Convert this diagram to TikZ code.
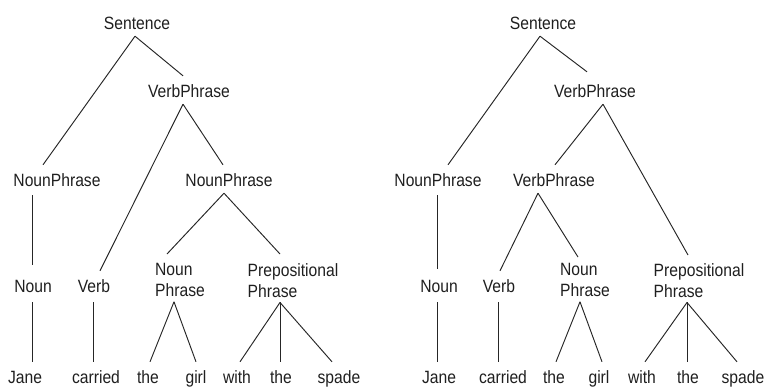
\documentclass[tikz,border=0pt]{standalone}
\usepackage{fontspec}
\setmainfont{Liberation Sans}[FakeStretch=0.88]
\begin{document}
\begin{tikzpicture}[x=1pt,y=-1pt,
  lab/.style={font=\fontsize{17.8}{21}\selectfont, text=black!88, inner xsep=0pt, inner ysep=3pt, text height=18pt, text depth=4pt, anchor=base},
  labtwo/.style={font=\fontsize{17.8}{21}\selectfont, text=black!88, inner sep=0pt, align=left, anchor=north},
  edge/.style={line width=0.95pt, draw=black!85}]
\useasboundingbox (0,0) rectangle (769,389);
% ---------- left tree ----------
\node[lab] (s1) at (137,29) {Sentence};
\node[lab] (vp1) at (189,97) {VerbPhrase};
\node[lab] (np1) at (57,186) {NounPhrase};
\node[lab] (np2) at (229,186) {NounPhrase};
\node[lab] (n1) at (33,292) {Noun};
\node[lab] (v1) at (94,292) {Verb};
\node[labtwo] (npb1) at (180,263) {Noun\\Phrase};
\node[labtwo] (pp1) at (293,263) {Prepositional\\Phrase};
\node[lab] (w1) at (25,383) {Jane};
\node[lab] (w2) at (96,383) {carried};
\node[lab] (w3) at (148,383) {the};
\node[lab] (w4) at (196,383) {girl};
\node[lab] (w5) at (237,383) {with};
\node[lab] (w6) at (281,383) {the};
\node[lab] (w7) at (339,383) {spade};
\draw[edge] ([xshift=-2pt]s1.south) -- ([xshift=-14pt]np1.north);
\draw[edge] ([xshift=-2pt]s1.south) -- ([xshift=-6pt]vp1.north);
\draw[edge] ([xshift=-6pt]vp1.south) -- ([xshift=6pt]v1.north);
\draw[edge] ([xshift=-6pt]vp1.south) -- ([xshift=-6pt]np2.north);
\draw[edge] ([xshift=-25pt,yshift=-2pt]np1.south) -- ([xshift=-1pt,yshift=6pt]n1.north);
\draw[edge] ([xshift=-5pt]np2.south) -- ([xshift=-13pt,yshift=9pt]npb1.north);
\draw[edge] ([xshift=-5pt]np2.south) -- ([xshift=-13pt,yshift=9pt]pp1.north);
\draw[edge] ([xshift=-1pt,yshift=-3pt]n1.south) -- ([xshift=7pt]w1.north);
\draw[edge] ([xshift=-1pt,yshift=-3pt]v1.south) -- ([xshift=-3pt]w2.north);
\draw[edge] ([xshift=-6pt,yshift=-5pt]npb1.south) -- ([xshift=2pt]w3.north);
\draw[edge] ([xshift=-6pt,yshift=-5pt]npb1.south) -- ([xshift=0pt]w4.north);
\draw[edge] ([xshift=-13pt,yshift=-5pt]pp1.south) -- ([xshift=3pt]w5.north);
\draw[edge] ([xshift=-13pt,yshift=-5pt]pp1.south) -- ([xshift=-1pt]w6.north);
\draw[edge] ([xshift=-13pt,yshift=-5pt]pp1.south) -- ([xshift=-7pt]w7.north);
% ---------- right tree ----------
\node[lab] (s2) at (543,29) {Sentence};
\node[lab] (vp2) at (595,97) {VerbPhrase};
\node[lab] (np3) at (438,186) {NounPhrase};
\node[lab] (vp3) at (554,186) {VerbPhrase};
\node[lab] (n2) at (439,292) {Noun};
\node[lab] (v2) at (499,292) {Verb};
\node[labtwo] (npb2) at (585,263) {Noun\\Phrase};
\node[labtwo] (pp2) at (699,263) {Prepositional\\Phrase};
\node[lab] (x1) at (439,383) {Jane};
\node[lab] (x2) at (503,383) {carried};
\node[lab] (x3) at (554,383) {the};
\node[lab] (x4) at (599,383) {girl};
\node[lab] (x5) at (642,383) {with};
\node[lab] (x6) at (688,383) {the};
\node[lab] (x7) at (743,383) {spade};
\draw[edge] ([xshift=-3pt]s2.south) -- ([xshift=10pt]np3.north);
\draw[edge] ([xshift=-3pt]s2.south) -- ([xshift=-8pt,yshift=4pt]vp2.north);
\draw[edge] ([xshift=8pt]vp2.south) -- ([xshift=1pt]vp3.north);
\draw[edge] ([xshift=8pt]vp2.south) -- ([xshift=-11pt,yshift=8pt]pp2.north);
\draw[edge] ([xshift=-1pt,yshift=-2pt]np3.south) -- ([xshift=-2pt,yshift=2pt]n2.north);
\draw[edge] ([xshift=-16pt]vp3.south) -- ([xshift=1pt]v2.north);
\draw[edge] ([xshift=-16pt]vp3.south) -- ([xshift=-7pt,yshift=6pt]npb2.north);
\draw[edge] ([xshift=-2pt,yshift=-3pt]n2.south) -- ([xshift=-2pt]x1.north);
\draw[edge] ([xshift=-1pt,yshift=-3pt]v2.south) -- ([xshift=-5pt]x2.north);
\draw[edge] ([xshift=-5pt,yshift=-5pt]npb2.south) -- ([xshift=2pt]x3.north);
\draw[edge] ([xshift=-5pt,yshift=-5pt]npb2.south) -- ([xshift=3pt]x4.north);
\draw[edge] ([xshift=-12pt,yshift=-5pt]pp2.south) -- ([xshift=3pt]x5.north);
\draw[edge] ([xshift=-12pt,yshift=-5pt]pp2.south) -- ([xshift=-1pt]x6.north);
\draw[edge] ([xshift=-12pt,yshift=-5pt]pp2.south) -- ([xshift=-6pt]x7.north);
\end{tikzpicture}
\end{document}
